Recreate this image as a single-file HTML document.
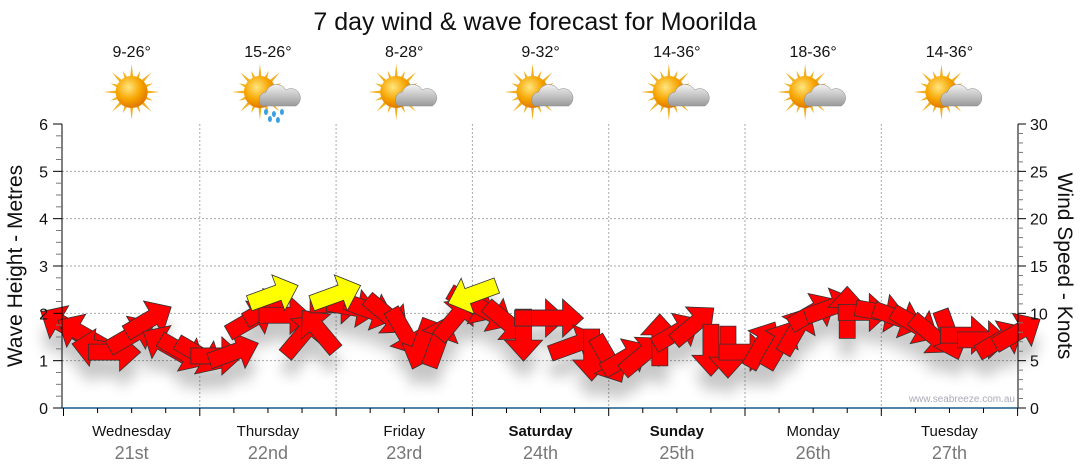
<!DOCTYPE html>
<html><head><meta charset="utf-8"><style>
body{margin:0;background:#fff;font-family:"Liberation Sans",sans-serif}
svg{display:block}
</style></head><body>
<svg id="c" width="1080" height="475" viewBox="0 0 1080 475">
<defs>
<filter id="sh" x="-50%" y="-50%" width="200%" height="250%"><feGaussianBlur stdDeviation="7"/></filter>
<radialGradient id="sun" cx="40%" cy="35%" r="65%"><stop offset="0" stop-color="#ffe680"/><stop offset="0.6" stop-color="#f7a500"/><stop offset="1" stop-color="#e07800"/></radialGradient>
<linearGradient id="cloud" x1="0" y1="0" x2="0" y2="1"><stop offset="0" stop-color="#f2f2f2"/><stop offset="1" stop-color="#9a9a9a"/></linearGradient>
</defs>
<text x="535" y="30" text-anchor="middle" font-size="25" fill="#111">7 day wind &amp; wave forecast for Moorilda</text>
<g id="grid"></g>
<g id="shadows" filter="url(#sh)" opacity="0.22"></g>
<g id="arrows"></g>
<g id="axes"></g>
<g id="top"></g>
<text x="1015" y="402" text-anchor="end" font-size="10" fill="#aab">www.seabreeze.com.au</text>
<text transform="translate(22,266) rotate(-90)" text-anchor="middle" font-size="21" fill="#111">Wave Height - Metres</text>
<text transform="translate(1058,266) rotate(90)" text-anchor="middle" font-size="21" fill="#111">Wind Speed - Knots</text>
</svg>
<script>
const days=["Wednesday","Thursday","Friday","Saturday","Sunday","Monday","Tuesday"];
const dates=["21st","22nd","23rd","24th","25th","26th","27th"];
const boldDays=[false,false,false,true,true,false,false];
const temps=["9-26°","15-26°","8-28°","9-32°","14-36°","18-36°","14-36°"];
const icons=["sun","rain","cloud","cloud","cloud","cloud","cloud"];
const windHours=[0,3,6,9,12,15,18,21,24,27,30,33,36,39,42,45,48,51,54,57,60,63,66,69,72,75,78,81,84,87,90,93,96,99,102,105,108,111,114,117,120,123,126,129,132,135,138,141,144,147,150,153,156,159,162,165,168];
const windKnots=[8.8,7.9,6.3,5.9,7.7,9.3,6.7,5.9,5.6,5.5,5.9,9.3,10.6,9.8,7.7,8.2,10.9,10.6,10.3,9.8,8.0,6.7,7.0,9.5,10.9,10.1,9.1,7.7,9.5,9.5,6.7,5.6,5.1,5.3,5.6,7.2,8.0,8.8,6.1,5.9,5.9,6.7,6.7,8.2,10.1,10.6,10.1,10.1,10.1,9.5,8.8,7.7,7.7,7.7,7.2,7.2,8.0];
const windDir=[300,300,280,90,60,60,300,120,120,90,70,60,60,90,40,320,90,100,110,130,150,200,20,40,120,120,130,180,90,90,70,180,150,60,50,0,60,50,180,180,90,30,30,30,60,70,0,90,100,110,120,130,160,90,90,60,60];
const waveHours=[37,48,72];
const waveHeight=[2.4,2.4,2.4];
const waveDir=[70,70,250];
const leftTicks=[0,1,2,3,4,5,6];
const rightTicks=[0,5,10,15,20,25,30];

const X0=63.5,DW=136.3,YT=124,YB=408;
const xH=h=>X0+h/24*DW;
const yM=m=>YB-(YB-YT)*m/6;
const yK=k=>YB-(YB-YT)*k/30;
const NS="http://www.w3.org/2000/svg";
function mk(tag,attrs,parent){const e=document.createElementNS(NS,tag);for(const k in attrs)e.setAttribute(k,attrs[k]);parent.appendChild(e);return e;}
const grid=document.getElementById('grid'),axes=document.getElementById('axes'),arrows=document.getElementById('arrows'),shadows=document.getElementById('shadows'),top_=document.getElementById('top');
for(let i=1;i<6;i++){const l=mk('line',{x1:62,x2:1018,y1:yM(i),y2:yM(i),stroke:'#aaa','stroke-dasharray':'2,2','stroke-width':1},grid);

}
for(let d=1;d<7;d++){const l=mk('line',{x1:xH(d*24),x2:xH(d*24),y1:YT,y2:YB,stroke:'#aaa','stroke-dasharray':'2,2'},grid);

}
mk('line',{x1:62,x2:62,y1:YT,y2:YB,stroke:'#000'},axes);
mk('line',{x1:1018,x2:1018,y1:YT,y2:YB,stroke:'#000'},axes);
mk('line',{x1:62,x2:1018,y1:YB,y2:YB,stroke:'#1a5a8a','stroke-width':1.5},axes);
for(let m=0;m<=24;m++){const y=yM(m/4);mk('line',{x1:m%4?56:53,x2:62,y1:y,y2:y,stroke:m%4?'#777':'#000'},axes);}
for(let k=0;k<=30;k++){const y=yK(k);mk('line',{x1:1018,x2:k%5?1023:1026,y1:y,y2:y,stroke:k%5?'#777':'#000'},axes);}
leftTicks.forEach(v=>{const t=mk('text',{x:48,y:yM(v)+6,'text-anchor':'end','font-size':16,fill:'#111'},axes);t.textContent=v;

});
rightTicks.forEach(v=>{const t=mk('text',{x:1030,y:yK(v)+6,'font-size':16,fill:'#111'},axes);t.textContent=v;

});
for(let h=0;h<=168;h+=6){const x=xH(h);mk('line',{x1:x,x2:x,y1:YB,y2:YB+(h%24?5:8),stroke:'#000'},axes);}
days.forEach((d,i)=>{const cx=xH(i*24+12);
const t=mk('text',{x:cx,y:436,'text-anchor':'middle','font-size':15,fill:'#111','font-weight':boldDays[i]?'bold':'normal'},axes);t.textContent=d;


const t2=mk('text',{x:cx,y:459,'text-anchor':'middle','font-size':18,fill:'#777'},axes);t2.textContent=dates[i];


const t3=mk('text',{x:cx,y:57,'text-anchor':'middle','font-size':16,fill:'#111'},top_);t3.textContent=temps[i];


const g=mk('g',{transform:`translate(${cx},92)`},top_);


const sx=icons[i]==='sun'?0:-8;
for(let r=0;r<16;r++){const a=r*Math.PI/8,L=r%2?23:28;mk('polygon',{points:`${sx+Math.cos(a-0.12)*14},${Math.sin(a-0.12)*14} ${sx+Math.cos(a)*L},${Math.sin(a)*L} ${sx+Math.cos(a+0.12)*14},${Math.sin(a+0.12)*14}`,fill:'#f0b020'},g);}
mk('circle',{cx:sx,cy:0,r:16,fill:'url(#sun)'},g);
if(icons[i]!=='sun'){mk('path',{d:'M-6,14 a8,8 0 0 1 4,-14 a11,11 0 0 1 20,-2 a8,8 0 0 1 10,16 z',fill:'url(#cloud)',stroke:'#888','stroke-width':0.5},g);}
if(icons[i]==='rain'){[[-2,20],[6,22],[14,20],[2,27],[10,28]].forEach(p=>mk('ellipse',{cx:p[0],cy:p[1],rx:2,ry:3,fill:'#3aa0e0'},g));}
});
const AP="0,-26 19,-5 8,-5 8,26 -8,26 -8,-5 -19,-5";
function arrow(x,y,dir,fill,name){
mk('polygon',{points:AP,transform:`translate(${x},${y+18}) rotate(${dir})`,fill:'#000'},shadows);
const p=mk('polygon',{points:AP,transform:`translate(${x},${y}) rotate(${dir})`,fill:fill,stroke:'#333','stroke-width':0.8},arrows);

}
windHours.forEach((h,i)=>arrow(xH(h),yK(windKnots[i]),windDir[i],'#ff0000','wind-arrow'));
waveHours.forEach((h,i)=>arrow(xH(h),yM(waveHeight[i]),waveDir[i],'#ffff00','wave-arrow'));
</script>
</body></html>
